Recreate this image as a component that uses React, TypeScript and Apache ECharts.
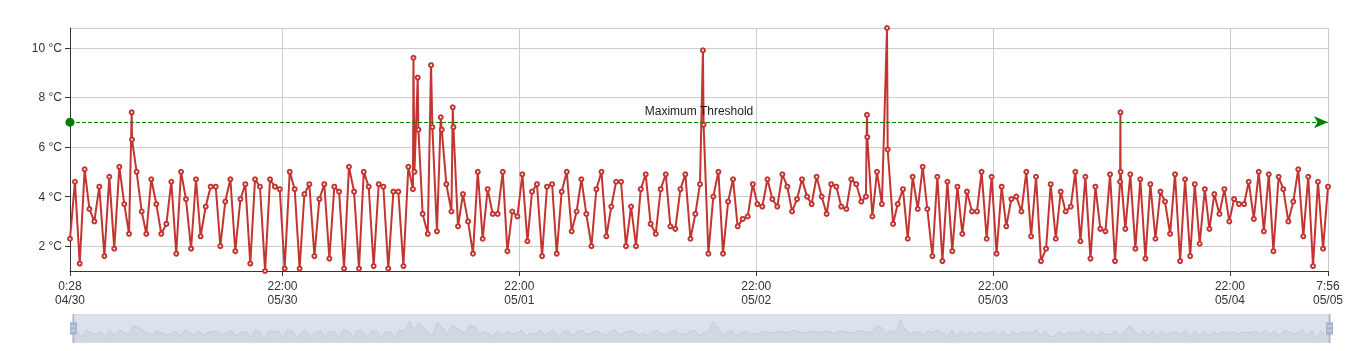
import React, { useEffect, useRef } from "react";
import * as echarts from "echarts";

// minutes elapsed since 04/30 0:28
const minutesFromStart = [
  0, 30, 59, 89, 118, 148, 178, 209, 239, 269,
  300, 330, 359, 375, 377, 405, 436, 464, 494, 525,
  555, 586, 616, 646, 675, 705, 736, 766, 794, 825,
  855, 886, 914, 944, 975, 1005, 1036, 1066, 1096, 1125,
  1155, 1186, 1216, 1246, 1275, 1305, 1336, 1366, 1396, 1425,
  1455, 1486, 1516, 1546, 1577, 1607, 1636, 1666, 1696, 1727,
  1757, 1786, 1816, 1846, 1877, 1905, 1935, 1966, 1996, 2027,
  2057, 2085, 2088, 2094, 2114, 2118, 2144, 2175, 2195, 2203,
  2231, 2254, 2260, 2288, 2319, 2327, 2331, 2359, 2389, 2420,
  2450, 2479, 2509, 2539, 2570, 2600, 2631, 2659, 2689, 2720,
  2750, 2781, 2809, 2839, 2870, 2900, 2931, 2959, 2989, 3020,
  3050, 3080, 3109, 3139, 3170, 3200, 3231, 3261, 3291, 3320,
  3350, 3380, 3411, 3441, 3470, 3500, 3530, 3561, 3591, 3622,
  3650, 3680, 3711, 3741, 3772, 3802, 3830,
  3848, 3852, 3881, 3911, 3942, 3970, 4001, 4031, 4059, 4090,
  4120, 4151, 4179, 4209, 4240, 4270, 4300, 4331, 4361, 4390,
  4420, 4450, 4481, 4509, 4539, 4570, 4600, 4628, 4659, 4689,
  4720, 4750, 4780, 4811, 4839, 4845, 4847, 4878, 4906, 4936,
  4967, 4971, 5004, 5032, 5064, 5093, 5123, 5154, 5184, 5212,
  5243, 5273, 5304, 5334, 5364, 5395, 5425, 5453, 5484, 5514,
  5542, 5573, 5603, 5633, 5664, 5692, 5723,
  5753, 5784, 5814, 5843, 5873, 5903, 5934, 5962, 5993, 6023,
  6053, 6084, 6112, 6143, 6173, 6204, 6234, 6264, 6295, 6323,
  6353, 6384, 6386, 6387, 6416, 6446, 6477, 6507, 6538, 6568,
  6599, 6629, 6657, 6688, 6718, 6749, 6779, 6810, 6838, 6868,
  6899, 6927, 6957, 6988, 7018, 7048, 7077, 7107, 7138, 7166,
  7197, 7227, 7258, 7288, 7316, 7348, 7376, 7407, 7437, 7467,
  7498, 7528, 7557, 7587, 7618, 7648,
];

const temperatures = [
  2.3, 4.6, 1.3, 5.1, 3.5, 3.0, 4.4, 1.6, 4.8, 1.9,
  5.2, 3.7, 2.5, 7.4, 6.3, 5.0, 3.4, 2.5, 4.7, 3.7,
  2.5, 2.9, 4.6, 1.7, 5.0, 3.9, 1.9, 4.7, 2.4, 3.6,
  4.4, 4.4, 2.0, 3.8, 4.7, 1.8, 3.9, 4.5, 1.3, 4.7,
  4.4, 1.0, 4.7, 4.4, 4.3, 1.1, 5.0, 4.3, 1.1, 4.1,
  4.5, 1.6, 3.9, 4.5, 1.5, 4.4, 4.2, 1.1, 5.2, 4.2,
  1.1, 5.0, 4.4, 1.2, 4.5, 4.4, 1.1, 4.2, 4.2, 1.2,
  5.2, 4.3, 9.6, 5.0, 8.8, 6.7, 3.3, 2.5, 9.3, 6.8,
  2.6, 7.2, 6.7, 4.5, 3.4, 7.6, 6.8, 2.8, 4.1, 3.0,
  1.7, 5.0, 2.3, 4.3, 3.3, 3.3, 5.0, 1.8, 3.4, 3.2,
  4.9, 2.2, 4.2, 4.5, 1.6, 4.4, 4.5, 1.7, 4.2, 5.0,
  2.6, 3.4, 4.7, 3.3, 2.0, 4.3, 5.0, 2.4, 3.6, 4.6,
  4.6, 2.0, 3.6, 2.0, 4.3, 4.9, 2.9, 2.5, 4.3, 4.9,
  2.8, 2.7, 4.3, 4.9, 2.3, 3.3, 4.5,
  9.9, 6.9, 1.7, 4.0, 5.0, 1.7, 3.8, 4.7, 2.8, 3.1,
  3.2, 4.5, 3.7, 3.6, 4.7, 3.9, 3.6, 4.9, 4.4, 3.4,
  3.9, 4.7, 4.0, 3.7, 4.8, 4.0, 3.3, 4.5, 4.4, 3.6,
  3.5, 4.7, 4.5, 3.8, 4.0, 7.3, 6.4, 3.2, 5.0, 3.7,
  10.8, 5.9, 2.9, 3.7, 4.3, 2.3, 4.8, 3.5, 5.2, 3.5,
  1.6, 4.8, 1.4, 4.6, 1.8, 4.4, 2.5, 4.2, 3.4, 3.4,
  5.0, 2.3, 4.8, 1.7, 4.4, 2.8, 3.9,
  4.0, 3.4, 5.0, 2.4, 4.8, 1.4, 1.9, 4.5, 2.3, 4.2,
  3.4, 3.6, 5.0, 2.2, 4.8, 1.5, 4.4, 2.7, 2.6, 4.9,
  1.4, 4.6, 7.4, 5.0, 2.7, 4.9, 1.9, 4.7, 1.5, 4.5,
  2.3, 4.2, 3.8, 2.5, 4.9, 1.4, 4.7, 1.6, 4.5, 2.1,
  4.3, 2.7, 4.1, 3.3, 4.3, 3.0, 3.9, 3.7, 3.7, 4.6,
  3.1, 5.0, 2.6, 4.9, 1.8, 4.8, 4.3, 3.0, 3.8, 5.1,
  2.4, 4.8, 1.2, 4.6, 1.9, 4.4,
];

const tickMinutes = [0, 1292, 2732, 4172, 5612, 7052, 7648];
const tickLabels = [
  "0:28\n04/30",
  "22:00\n05/30",
  "22:00\n05/01",
  "22:00\n05/02",
  "22:00\n05/03",
  "22:00\n05/04",
  "7:56\n05/05",
];

const thresholdValue = 7;
const thresholdName = "Maximum Threshold";

const FONT = "'Liberation Sans', Arial, Helvetica, sans-serif";

export default function App() {
  const ref = useRef<HTMLDivElement>(null);

  useEffect(() => {
    if (!ref.current) return;
    const chart = echarts.init(ref.current, undefined, { renderer: "svg" });
    const seriesData = minutesFromStart.map((m, i) => [m, temperatures[i]]);

    chart.setOption({
      animation: false,
      textStyle: { fontFamily: FONT },
      grid: { left: 70, right: 30, top: 28, bottom: 80 },
      xAxis: {
        type: "value",
        min: 0,
        max: 7648,
        axisLine: { lineStyle: { color: "#333" } },
        axisTick: { show: true, customValues: tickMinutes, lineStyle: { color: "#333" } },
        axisLabel: {
          customValues: tickMinutes,
          color: "#333",
          fontSize: 12,
          lineHeight: 14,
          fontFamily: FONT,
          formatter: (v: number) => {
            const idx = tickMinutes.indexOf(Math.round(v));
            return idx >= 0 ? tickLabels[idx] : "";
          },
        },
        splitLine: { show: true, lineStyle: { color: "#ccc" } },
      },
      yAxis: {
        type: "value",
        min: 1,
        max: 10.8,
        splitNumber: 5,
        axisLine: { show: true, lineStyle: { color: "#333" } },
        axisTick: { show: true, lineStyle: { color: "#333" } },
        axisLabel: {
          color: "#333",
          fontSize: 12,
          fontFamily: FONT,
          formatter: "{value} °C",
          showMinLabel: false,
          showMaxLabel: false,
        },
        splitLine: { show: true, lineStyle: { color: "#ccc" } },
      },
      dataZoom: [
        {
          type: "slider",
          xAxisIndex: 0,
          start: 0,
          end: 100,
          left: 70,
          right: 30,
          bottom: 8,
          height: 29,
          showDetail: false,
          brushSelect: false,
          moveHandleSize: 0,
          backgroundColor: "rgba(47,69,84,0)",
          borderColor: "#ddd",
          fillerColor: "rgba(167,183,204,0.4)",
          dataBackground: {
            lineStyle: { color: "#2f4554", width: 0.5, opacity: 0.3 },
            areaStyle: { color: "rgba(47,69,84,0.3)", opacity: 0.3 },
          },
          selectedDataBackground: {
            lineStyle: { color: "#2f4554", width: 0.5, opacity: 0.3 },
            areaStyle: { color: "rgba(47,69,84,0.3)", opacity: 0.3 },
          },
          handleIcon:
            "path://M8.2,13.6V3.9H6.3v9.7H3.1v14.9h3.3v9.7h1.8v-9.7h3.3V13.6H8.2z M9.7,24.4H4.8v-1.4h4.9V24.4z M9.7,19.1H4.8v-1.4h4.9V19.1z",
          handleSize: "100%",
          handleStyle: { color: "#a7b7cc", borderColor: "#a7b7cc", borderWidth: 0 },
          emphasis: { handleStyle: { color: "#a7b7cc", borderColor: "#a7b7cc" } },
        },
      ],
      series: [
        {
          type: "line",
          data: seriesData,
          color: "#c23531",
          symbol: "emptyCircle",
          symbolSize: 4,
          showAllSymbol: true,
          lineStyle: { width: 2, color: "#c23531" },
          itemStyle: { color: "#c23531", borderColor: "#c23531", borderWidth: 1 },
          markLine: {
            silent: true,
            symbol: ["circle", "arrow"],
            symbolSize: [9, 14],
            lineStyle: { color: "green", type: "dashed", width: 1 },
            label: {
              show: true,
              position: "middle",
              formatter: "{b}",
              color: "#222",
              fontSize: 12,
              fontFamily: FONT,
            },
            data: [{ yAxis: thresholdValue, name: thresholdName }],
          },
        },
      ],
    });

    return () => chart.dispose();
  }, []);

  return (
    <div
      ref={ref}
      style={{ position: "fixed", left: 0, top: 0, width: 1358, height: 351 }}
    />
  );
}
